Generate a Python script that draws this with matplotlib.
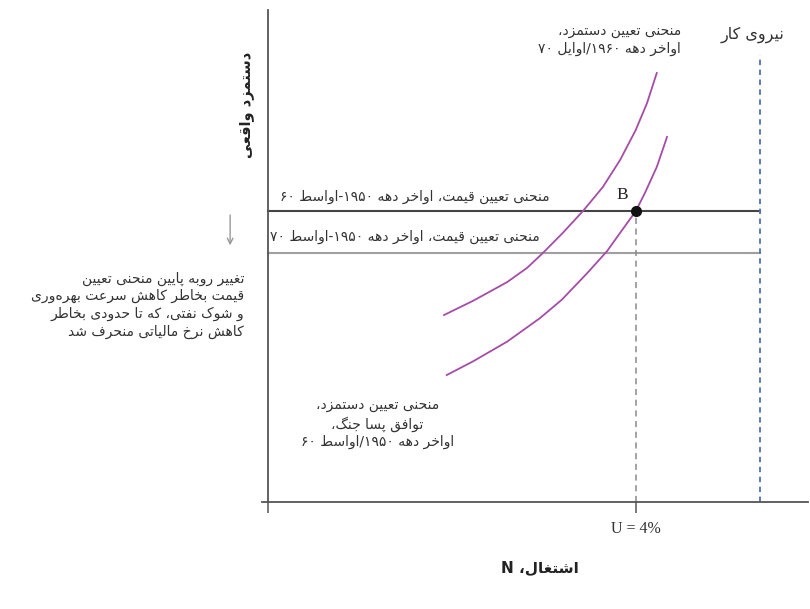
import re
import matplotlib
matplotlib.use('Agg')
import matplotlib.pyplot as plt

wage_postwar_x = [33.1, 38.0, 44.3, 50.4, 54.4, 59.1, 62.8, 65.6, 68.1, 69.8, 72.0, 73.9]
wage_postwar_y = [25.8, 28.6, 32.6, 37.4, 41.1, 46.5, 51.0, 55.3, 59.1, 62.8, 68.1, 74.2]
wage_late60s_x = [32.6, 38.0, 44.3, 48.0, 50.9, 54.6, 58.3, 62.0, 65.2, 68.1, 70.2, 72.0]
wage_late60s_y = [38.0, 40.9, 44.7, 47.6, 50.6, 54.7, 59.1, 64.0, 69.5, 75.6, 81.1, 87.2]

price_high = 59.1   # 1950s - mid 60s
price_low = 50.6    # after the shift
labour_force = 91.1
n_eq = 68.1         # U = 4%
labour_top = 90.9

tick_labels = ['', 'U = 4%']

# ---- tiny persian shaper + bidi (no arabic_reshaper available) ----
FORMS = {
    '\u0627': ('\uFE8D', '\uFE8E', None, None),
    '\u0628': ('\uFE8F', '\uFE90', '\uFE91', '\uFE92'),
    '\u067E': ('\uFB56', '\uFB57', '\uFB58', '\uFB59'),
    '\u062A': ('\uFE95', '\uFE96', '\uFE97', '\uFE98'),
    '\u062C': ('\uFE9D', '\uFE9E', '\uFE9F', '\uFEA0'),
    '\u062D': ('\uFEA1', '\uFEA2', '\uFEA3', '\uFEA4'),
    '\u062E': ('\uFEA5', '\uFEA6', '\uFEA7', '\uFEA8'),
    '\u062F': ('\uFEA9', '\uFEAA', None, None),
    '\u0631': ('\uFEAD', '\uFEAE', None, None),
    '\u0632': ('\uFEAF', '\uFEB0', None, None),
    '\u0633': ('\uFEB1', '\uFEB2', '\uFEB3', '\uFEB4'),
    '\u0634': ('\uFEB5', '\uFEB6', '\uFEB7', '\uFEB8'),
    '\u0637': ('\uFEC1', '\uFEC2', '\uFEC3', '\uFEC4'),
    '\u0639': ('\uFEC9', '\uFECA', '\uFECB', '\uFECC'),
    '\u063A': ('\uFECD', '\uFECE', '\uFECF', '\uFED0'),
    '\u0641': ('\uFED1', '\uFED2', '\uFED3', '\uFED4'),
    '\u0642': ('\uFED5', '\uFED6', '\uFED7', '\uFED8'),
    '\u06A9': ('\uFB8E', '\uFB8F', '\uFB90', '\uFB91'),
    '\u06AF': ('\uFB92', '\uFB93', '\uFB94', '\uFB95'),
    '\u0644': ('\uFEDD', '\uFEDE', '\uFEDF', '\uFEE0'),
    '\u0645': ('\uFEE1', '\uFEE2', '\uFEE3', '\uFEE4'),
    '\u0646': ('\uFEE5', '\uFEE6', '\uFEE7', '\uFEE8'),
    '\u0647': ('\uFEE9', '\uFEEA', '\uFEEB', '\uFEEC'),
    '\u0648': ('\uFEED', '\uFEEE', None, None),
    '\u06CC': ('\uFBFC', '\uFBFD', '\uFBFE', '\uFBFF'),
}


def shape(s):
    s = s.replace('\u064A', '\u06CC').replace('\u0643', '\u06A9')
    out = []
    for i, c in enumerate(s):
        if c not in FORMS:
            out.append(c)
            continue
        prev = s[i - 1] if i > 0 else ''
        nxt = s[i + 1] if i + 1 < len(s) else ''
        join_prev = prev in FORMS and FORMS[prev][2] is not None
        join_next = FORMS[c][2] is not None and nxt in FORMS
        iso, fin, ini, med = FORMS[c]
        if join_prev and join_next:
            out.append(med)
        elif join_prev:
            out.append(fin)
        elif join_next:
            out.append(ini)
        else:
            out.append(iso)
    return ''.join(out).replace('\u200c', '')


def fa(text):
    lines = []
    for line in text.split('\n'):
        rev = shape(line)[::-1]
        rev = re.sub(r'[0-9\u06F0-\u06F9A-Za-z%]+', lambda m: m.group(0)[::-1], rev)
        lines.append(rev)
    return '\n'.join(lines)


FA = ['DejaVu Sans']
SERIF = ['Liberation Serif', 'DejaVu Serif']

fig = plt.figure(figsize=(8.1, 6.09), dpi=100)
ax = fig.add_axes([262 / 810, 1 - 502 / 609, 546 / 810, 492 / 609])
ax.set_xlim(-1.1, 100)
ax.set_ylim(0, 100)

for s in ['top', 'right']:
    ax.spines[s].set_visible(False)
ax.spines['left'].set_position(('data', 0))
for s in ['left', 'bottom']:
    ax.spines[s].set_color('#555555')
    ax.spines[s].set_linewidth(1.3)

ax.set_yticks([])
ax.set_xticks([0, n_eq])
ax.set_xticklabels(tick_labels, fontfamily=SERIF, fontsize=11.5, color='#333333')
ax.tick_params(axis='x', direction='out', length=8, width=1.1, color='#555555', pad=6)

# price-setting lines
ax.plot([0, labour_force], [price_high, price_high], color='#444444', lw=1.5)
ax.plot([0, labour_force], [price_low, price_low], color='#a0a0a0', lw=1.5)

# labour force + equilibrium dashed lines
ax.plot([labour_force, labour_force], [0, labour_top], color='#4f72b0', lw=1.3, ls=(0, (3, 2.5)))
ax.plot([n_eq, n_eq], [0, price_high], color='#8a8a8a', lw=1.1, ls=(0, (4, 3)))

# wage-setting curves
ax.plot(wage_postwar_x, wage_postwar_y, color='#a54ca8', lw=1.3, solid_joinstyle='round')
ax.plot(wage_late60s_x, wage_late60s_y, color='#a54ca8', lw=1.3, solid_joinstyle='round')

ax.plot([n_eq], [price_high], 'o', color='#111111', ms=7, zorder=5)
ax.text(65.6, 62.4, 'B', fontfamily=SERIF, fontsize=12.5, color='#222222', ha='center', va='center')

tc = '#333333'
ax.text(95.7, 94.9, fa('نیروی کار'), family=FA, fontsize=11.5, color=tc, ha='right', va='center')
ax.text(76.5, 93.9, fa('منحنی تعیین دستمزد،\nاواخر دهه ۱۹۶۰/اوایل ۷۰'), family=FA, fontsize=10,
        color=tc, ha='right', va='center', multialignment='right', linespacing=1.3)
ax.text(52.2, 62.0, fa('منحنی تعیین قیمت، اواخر دهه ۱۹۵۰-اواسط ۶۰'), family=FA, fontsize=10,
        color=tc, ha='right', va='center')
ax.text(50.4, 53.9, fa('منحنی تعیین قیمت، اواخر دهه ۱۹۵۰-اواسط ۷۰'), family=FA, fontsize=10,
        color=tc, ha='right', va='center')
ax.text(20.3, 15.9, fa('منحنی تعیین دستمزد،\nتوافق پسا جنگ،\nاواخر دهه ۱۹۵۰/اواسط ۶۰'), family=FA,
        fontsize=10, color=tc, ha='center', va='center', multialignment='center', linespacing=1.3)
ax.text(-4.4, 40.0, fa('تغییر روبه پایین منحنی تعیین\nقیمت بخاطر کاهش سرعت بهره\u200cوری\n'
                       'و شوک نفتی، که تا حدودی بخاطر\nکاهش نرخ مالیاتی منحرف شد'),
        family=FA, fontsize=10, color=tc, ha='right', va='center', multialignment='right',
        linespacing=1.3, clip_on=False)

ax.annotate('', xy=(-7.0, 51.6), xytext=(-7.0, 58.9), annotation_clip=False,
            arrowprops=dict(arrowstyle='->', color='#999999', lw=1.0))

ax.text(50.4, -13.4, fa('اشتغال، N'), family=FA, fontsize=11, fontweight='bold',
        color='#222222', ha='center', va='center', clip_on=False)
ax.text(-3.9, 80.7, fa('دستمزد واقعی'), family=FA, fontsize=10.5, fontweight='bold',
        color='#222222', ha='center', va='center', rotation=90, clip_on=False)

fig.savefig('out.png', dpi=100)
